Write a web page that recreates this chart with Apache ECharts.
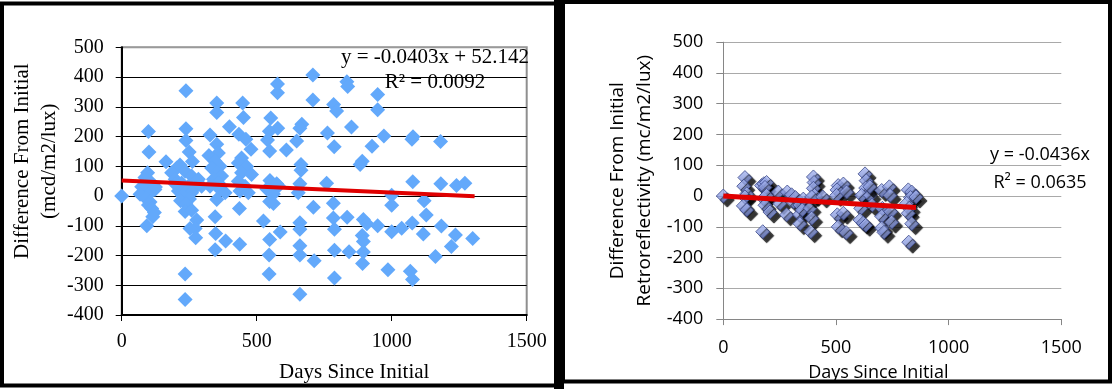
<!DOCTYPE html>
<html>
<head>
<meta charset="utf-8">
<script src="https://cdn.jsdelivr.net/npm/echarts@6/dist/echarts.min.js"></script>
<style>
html,body{margin:0;padding:0;background:#fff;}
#chart{width:1113px;height:389px;}
</style>
</head>
<body>
<div id="chart"></div>
<script>
// ---- Data ----
const xTicks = [0, 500, 1000, 1500];
const yTicks = [-400, -300, -200, -100, 0, 100, 200, 300, 400, 500];

// Left chart: Difference From Initial (mcd/m2/lux) vs Days Since Initial
const leftPoints = [
  [0,0],
  [99,217],[101,148],[96,78],[86,62],[111,44],[99,40],[74,31],[123,22],[93,11],[110,14],[68,6],[125,30],[90,-8],[105,-20],[99,-30],[111,-42],[121,-55],[115,-70],[93,-100],
  [164,115],
  [238,354],[238,226],[238,187],[250,148],[262,116],
  [204,94],[216,104],[185,78],[235,83],[259,67],[284,56],[198,56],[222,44],[247,33],[272,28],[296,33],[210,17],[235,9],[259,11],[198,40],[225,1],[251,-10],[218,-16],[238,-27],
  [235,-52],[259,-48],[278,-81],[272,-109],[253,-109],[274,-140],[235,-262],[235,-348],
  [327,205],[352,313],[352,281],[352,174],[358,145],[323,136],[346,117],[364,100],[333,94],[352,78],[370,67],[340,56],[358,44],[327,33],[364,22],[383,11],
  [352,-12],[346,-70],[348,-126],[385,-151],[346,-181],
  [399,233],[448,313],[451,264],[434,208],[460,191],[479,157],[444,128],[432,111],[463,99],[444,78],[481,72],[432,50],[457,33],[438,17],[469,11],
  [436,-42],[437,-162],
  [525,-84],[562,-25],[548,-146],[587,-121],[546,-198],[546,-262],
  [577,377],[577,347],[552,262],[578,228],[547,218],[540,188],[548,151],[610,155],[549,52],[574,41],[537,24],[581,34],[562,7],[548,-18],
  [708,407],[708,323],[785,308],[796,286],[834,384],[837,368],[948,341],[948,290],[667,241],[660,228],[648,185],[762,212],[787,166],[851,232],[971,202],[927,167],[891,117],[883,106],[1079,199],[1075,191],[1181,183],[664,106],[664,87],[660,41],[654,11],[759,43],[1078,48],[1182,41],[1240,35],[1271,43],[1000,3],[1120,-16],[710,-38],[784,-24],
  [784,-74],[788,-112],[835,-71],[895,-79],[908,-93],[891,-133],[895,-153],[895,-188],[892,-227],[842,-187],[788,-182],[713,-218],[660,-90],[660,-112],[660,-167],[660,-198],[660,-330],[788,-276],[948,-100],[1000,-120],[1037,-108],[1076,-91],[1000,-31],[986,-248],[1069,-253],[1077,-281],[1128,-64],[1117,-128],[1184,-101],[1236,-131],[1221,-170],[1162,-203],[1300,-143]
];
// Left trendline y = -0.0403x + 52.142, endpoints
const leftTrend = [[0, 52.142], [1307, -0.53]];
const leftEquation = 'y = -0.0403x + 52.142';
const leftR2 = 'R² = 0.0092';

// Right chart: Difference From Initial Retroreflectivity (mc/m2/lux)
const rightPoints = [
  [0,0],
  [96,60],[91,32],[104,7],[96,-3],[89,-32],[104,-45],
  [170,34],[180,40],[192,44],[185,28],[178,-8],[192,2],[185,-30],[207,-52],[175,-116],
  [244,13],[251,-24],[284,13],[281,-61],[303,4],[311,-19],[320,-5],[340,-29],[338,-61],[340,-90],[355,-10],[350,-45],
  [385,-40],[388,-116],[392,-72],[400,62],[403,44],[400,25],[405,2],[392,-3],[441,-3],
  [510,34],[533,39],[505,20],[503,2],[547,13],[506,-61],[533,-56],[510,-100],[545,-119],
  [629,72],[634,50],[632,26],[629,-8],[614,2],[651,2],[650,30],[660,-30],[610,-40],[607,-78],[621,-88],[632,-95],
  [703,18],[737,30],[740,2],[706,-40],[703,-66],[743,-51],[703,-104],[713,-118],[747,-85],
  [821,20],[836,13],[831,-5],[855,-3],[814,-24],[825,-40],[821,-56],[836,-90],[823,-150]
];
// Right trendline y = -0.0436x
const rightTrend = [[0, 0], [855, -37.3]];
const rightEquation = 'y = -0.0436x';
const rightR2 = 'R² = 0.0635';

const leftXName = 'Days Since Initial';
const leftYName = 'Difference From Initial\n(mcd/m2/lux)';
const rightXName = 'Days Since Initial';
const rightYName = 'Difference From Initial\nRetroreflectivity (mc/m2/lux)';

// ---- Chart ----
const SERIF = '"Liberation Serif", "Times New Roman", serif';
const SANS = '"Open Sans", "DejaVu Sans", sans-serif';
const plain = v => String(v);
const chart = echarts.init(document.getElementById('chart'), null, {renderer: 'canvas'});

const leftSplitColors = yTicks.map((v, i) => i === yTicks.length - 1 ? '#9a9a9a' : '#000000');

const option = {
  animation: false,
  backgroundColor: '#ffffff',
  grid: [
    {left: 121.7, top: 47.3, width: 405, height: 270, show: true, borderColor: '#8f8f8f', borderWidth: 2, backgroundColor: 'transparent'},
    {left: 723.3, top: 42.2, width: 338, height: 285.3}
  ],
  xAxis: [
    {
      gridIndex: 0, type: 'value', min: xTicks[0], max: xTicks[xTicks.length - 1], interval: 500,
      axisLine: {show: true, onZero: false, lineStyle: {color: '#000', width: 2}},
      axisTick: {show: true, length: 6, lineStyle: {color: '#000', width: 1}},
      axisLabel: {margin: 17, color: '#000', fontFamily: SERIF, fontSize: 20, formatter: plain},
      splitLine: {show: false},
      name: leftXName, nameLocation: 'middle', nameGap: 45,
      nameTextStyle: {color: '#000', fontFamily: SERIF, fontSize: 21, lineHeight: 24, padding: [0, 0, 0, 60]}
    },
    {
      gridIndex: 1, type: 'value', min: xTicks[0], max: xTicks[xTicks.length - 1], interval: 500,
      axisLine: {show: true, onZero: false, lineStyle: {color: '#868686', width: 1}},
      axisTick: {show: true, length: 6, lineStyle: {color: '#868686', width: 1}},
      axisLabel: {margin: 20, color: '#000', fontFamily: SANS, fontSize: 18, formatter: plain},
      splitLine: {show: false},
      name: rightXName, nameLocation: 'middle', nameGap: 25,
      nameTextStyle: {color: '#000', fontFamily: SANS, fontSize: 18, lineHeight: 22, padding: [0, 28, 0, 0]}
    }
  ],
  yAxis: [
    {
      gridIndex: 0, type: 'value', min: yTicks[0], max: yTicks[yTicks.length - 1], interval: 100,
      axisLine: {show: true, onZero: false, lineStyle: {color: '#000', width: 2}},
      axisTick: {show: true, length: 6, lineStyle: {color: '#000', width: 1}},
      axisLabel: {margin: 18, color: '#000', fontFamily: SERIF, fontSize: 20, formatter: plain},
      splitLine: {show: true, lineStyle: {color: leftSplitColors, width: 1}},
      name: leftYName, nameLocation: 'middle', nameRotate: 90, nameGap: 58,
      nameTextStyle: {color: '#000', fontFamily: SERIF, fontSize: 21, lineHeight: 27, padding: [0, 0, 0, 40]}
    },
    {
      gridIndex: 1, type: 'value', min: yTicks[0], max: yTicks[yTicks.length - 1], interval: 100,
      axisLine: {show: true, onZero: false, lineStyle: {color: '#868686', width: 1}},
      axisTick: {show: true, length: 7, lineStyle: {color: '#868686', width: 1}},
      axisLabel: {margin: 20, color: '#000', fontFamily: SANS, fontSize: 18, formatter: plain},
      splitLine: {show: true, lineStyle: {color: '#a9a9a9', width: 1}},
      name: rightYName, nameLocation: 'middle', nameRotate: 90, nameGap: 65,
      nameTextStyle: {color: '#000', fontFamily: SANS, fontSize: 19, lineHeight: 27}
    }
  ],
  series: [
    {
      type: 'scatter', xAxisIndex: 0, yAxisIndex: 0, data: leftPoints,
      symbol: 'diamond', symbolSize: 15,
      itemStyle: {color: '#63a9fb', opacity: 1}
    },
    {
      type: 'line', xAxisIndex: 0, yAxisIndex: 0, data: leftTrend,
      showSymbol: false, symbol: 'none', z: 5,
      lineStyle: {color: '#e00000', width: 4}
    },
    {
      type: 'scatter', xAxisIndex: 1, yAxisIndex: 1, data: rightPoints,
      symbol: 'diamond', symbolSize: 14,
      itemStyle: {
        color: new echarts.graphic.LinearGradient(0, 0, 0, 1, [
          {offset: 0, color: '#a9b8f0'}, {offset: 1, color: '#7486d2'}
        ]),
        borderColor: '#3a4788', borderWidth: 1,
        shadowColor: '#000', shadowOffsetX: 4, shadowOffsetY: 4, shadowBlur: 1
      }
    },
    {
      type: 'line', xAxisIndex: 1, yAxisIndex: 1, data: rightTrend,
      showSymbol: false, symbol: 'none', z: 5,
      lineStyle: {color: '#e00000', width: 5}
    }
  ],
  graphic: [
    {type: 'rect', shape: {x: 2, y: 3.5, width: 554, height: 382}, style: {fill: 'none', stroke: '#000', lineWidth: 4}, z: 100},
    {type: 'rect', shape: {x: 563, y: 2, width: 547, height: 379.5}, style: {fill: 'none', stroke: '#000', lineWidth: 4}, z: 100},
    {type: 'rect', shape: {x: 554, y: 0, width: 10, height: 389}, style: {fill: '#000'}, z: 100},
    {type: 'text', x: 435, y: 57, style: {text: leftEquation, fill: '#000', font: '21px ' + SERIF, textAlign: 'center', textVerticalAlign: 'middle'}, z: 50},
    {type: 'text', x: 435, y: 82, style: {text: leftR2, fill: '#000', font: '21px ' + SERIF, textAlign: 'center', textVerticalAlign: 'middle'}, z: 50},
    {type: 'text', x: 1040, y: 155, style: {text: rightEquation, fill: '#000', font: '18px ' + SANS, textAlign: 'center', textVerticalAlign: 'middle'}, z: 50},
    {type: 'text', x: 1040, y: 183, style: {text: rightR2, fill: '#000', font: '18px ' + SANS, textAlign: 'center', textVerticalAlign: 'middle'}, z: 50}
  ]
};
chart.setOption(option);
</script>
</body>
</html>
